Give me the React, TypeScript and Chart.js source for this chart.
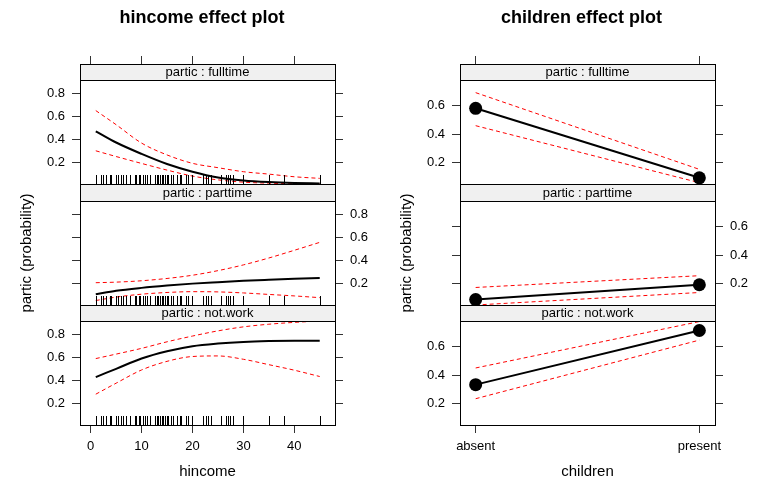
import React, { useEffect, useRef } from "react";
import { Chart, registerables } from "chart.js";

Chart.register(...registerables);
Chart.defaults.font.family = '"Liberation Sans", Arial, Helvetica, sans-serif';
Chart.defaults.color = "#000";

// ---------------- data ----------------
const HINCOME_X = [1, 5, 10, 15, 20, 25, 30, 35, 40, 45];

const FULLTIME_FIT = [0.47, 0.372, 0.273, 0.185, 0.118, 0.068, 0.042, 0.028, 0.02, 0.016];
const FULLTIME_UPPER = [0.65, 0.527, 0.367, 0.264, 0.191, 0.153, 0.118, 0.097, 0.074, 0.06];
const FULLTIME_LOWER = [0.3, 0.25, 0.19, 0.132, 0.08, 0.047, 0.027, 0.018, 0.013, 0.011];

const PARTTIME_FIT = [0.105, 0.135, 0.16, 0.18, 0.197, 0.21, 0.222, 0.231, 0.239, 0.246];
const PARTTIME_UPPER = [0.205, 0.21, 0.222, 0.242, 0.27, 0.31, 0.36, 0.42, 0.487, 0.556];
const PARTTIME_LOWER = [0.05, 0.08, 0.105, 0.12, 0.127, 0.125, 0.116, 0.103, 0.09, 0.075];

const NOTWORK_FIT = [0.428, 0.5, 0.59, 0.653, 0.697, 0.72, 0.734, 0.741, 0.744, 0.745];
const NOTWORK_UPPER = [0.589, 0.628, 0.678, 0.735, 0.785, 0.83, 0.865, 0.888, 0.904, 0.916];
const NOTWORK_LOWER = [0.279, 0.375, 0.49, 0.565, 0.607, 0.612, 0.583, 0.536, 0.488, 0.433];

const HINCOME_RUG = [
  1, 2, 2.4, 3, 3.7, 4, 5, 5.4, 6, 6.4, 7, 7.7, 8.7, 9, 9.4, 9.7, 10.3, 10.7, 11, 11.6,
  12.6, 13, 13.3, 13.6, 14, 14.2, 14.6, 15, 15.2, 15.8, 16.2, 17, 17.5, 17.8, 18.7, 19.2,
  20, 22, 22.6, 23, 23.7, 25.7, 26.5, 27, 27.3, 28, 30, 35, 38, 45,
];

const CHILDREN = ["absent", "present"];
const CH_FULLTIME_FIT = [0.579, 0.095];
const CH_FULLTIME_UPPER = [0.688, 0.154];
const CH_FULLTIME_LOWER = [0.458, 0.061];
const CH_PARTTIME_FIT = [0.09, 0.193];
const CH_PARTTIME_UPPER = [0.174, 0.256];
const CH_PARTTIME_LOWER = [0.052, 0.139];
const CH_NOTWORK_FIT = [0.333, 0.71];
const CH_NOTWORK_UPPER = [0.449, 0.772];
const CH_NOTWORK_LOWER = [0.235, 0.643];

const HINCOME_TICKS = [0, 10, 20, 30, 40];
const LEFT_PROB_TICKS = [0.2, 0.4, 0.6, 0.8];
const RIGHT_PROB_TICKS = [0.2, 0.4, 0.6];

const LEFT_X_LIMITS = [-2.1, 48];
const RIGHT_X_LIMITS = [0.93, 2.07];
const LEFT_Y_LIMITS = [0.011, 0.916];
const RIGHT_Y_LIMITS = [0.052, 0.776];

const STRIP_LABELS = ["partic : fulltime", "partic : parttime", "partic : not.work"];
const TITLES = ["hincome effect plot", "children effect plot"];
const X_TITLES = ["hincome", "children"];
const Y_TITLE = "partic (probability)";

const LEFT_SERIES = [
  [FULLTIME_FIT, FULLTIME_UPPER, FULLTIME_LOWER],
  [PARTTIME_FIT, PARTTIME_UPPER, PARTTIME_LOWER],
  [NOTWORK_FIT, NOTWORK_UPPER, NOTWORK_LOWER],
];
const RIGHT_SERIES = [
  [CH_FULLTIME_FIT, CH_FULLTIME_UPPER, CH_FULLTIME_LOWER],
  [CH_PARTTIME_FIT, CH_PARTTIME_UPPER, CH_PARTTIME_LOWER],
  [CH_NOTWORK_FIT, CH_NOTWORK_UPPER, CH_NOTWORK_LOWER],
];

// ---------------- layout ----------------
const W = 759;
const H = 481;
const COL_LEFT = [0, 380];
const COL_RIGHT = [380, 759];
const PLOT_LEFT = [80, 460];
const PLOT_RIGHT = [335, 715];
const TITLE_INSET = 24;
const ROW_TOP = [0, 184, 305];
const ROW_BOTTOM = [184, 305, 481];
const ROW_OVERHANG = [0, 25, 0];
const STRIP_H = [16, 17, 16];
const BOTTOM_AXIS_H = 56;
const TOP_AXIS_H = 24;
const TICK_LEN = 8;
const TICK_COLOR = "#333";
const STRIP_FILL = "#f0f0f0";
const FONT_FAMILY = '"Liberation Sans", Arial, Helvetica, sans-serif';

function geometry(col: number, row: number) {
  const x = row === 0 ? COL_LEFT[col] + TITLE_INSET : COL_LEFT[col];
  const w = COL_RIGHT[col] - x;
  const oh = ROW_OVERHANG[row];
  return {
    x,
    y: ROW_TOP[row] - oh,
    w,
    h: ROW_BOTTOM[row] - ROW_TOP[row] + 2 * oh,
    leftW: PLOT_LEFT[col] - x,
    rightW: COL_RIGHT[col] - PLOT_RIGHT[col],
    padTop: (row === 0 ? 0 : STRIP_H[row]) + oh,
    padBottom: oh,
  };
}

const pts = (xs: number[], ys: number[]) => xs.map((x, i) => ({ x, y: ys[i] }));

function noPad(s: any) {
  s.paddingTop = 0;
  s.paddingBottom = 0;
  s.paddingLeft = 0;
  s.paddingRight = 0;
}

function buildConfig(col: number, row: number): any {
  const g = geometry(col, row);
  const isLeft = col === 0;
  const xl = isLeft ? LEFT_X_LIMITS : RIGHT_X_LIMITS;
  const yl = isLeft ? LEFT_Y_LIMITS : RIGHT_Y_LIMITS;
  const yt = isLeft ? LEFT_PROB_TICKS : RIGHT_PROB_TICKS;
  const xt = isLeft ? HINCOME_TICKS : CHILDREN.map((_, i) => i + 1);
  const xs = isLeft ? HINCOME_X : CHILDREN.map((_, i) => i + 1);
  const [fit, up, lo] = (isLeft ? LEFT_SERIES : RIGHT_SERIES)[row];
  const xLabel = (v: number) => (isLeft ? String(v) : CHILDREN[Math.round(v) - 1]);
  const tickFont = { size: 13 };
  const gridOpts = (len: number) => ({
    display: true,
    drawOnChartArea: false,
    drawTicks: true,
    tickLength: len,
    color: TICK_COLOR,
    lineWidth: 1,
  });
  const border = { display: true, color: "#000", width: 1 };
  const setTicks = (vals: number[]) => (s: any) => {
    s.ticks = vals.map((v) => ({ value: v }));
  };

  const scales: any = {
    x: {
      type: "linear",
      position: "bottom",
      min: xl[0],
      max: xl[1],
      display: row === 2,
      afterBuildTicks: setTicks(xt),
      afterFit: (s: any) => {
        if (row === 2) s.height = BOTTOM_AXIS_H;
        noPad(s);
      },
      grid: gridOpts(TICK_LEN),
      border,
      ticks: {
        font: tickFont,
        padding: 6,
        autoSkip: false,
        maxRotation: 0,
        callback: (v: any) => xLabel(Number(v)),
      },
      title: {
        display: true,
        text: X_TITLES[col],
        font: { size: 15 },
        padding: { top: 0, bottom: 0 },
      },
    },
    y: {
      type: "linear",
      position: "left",
      min: yl[0],
      max: yl[1],
      afterBuildTicks: setTicks(yt),
      afterFit: (s: any) => {
        s.width = g.leftW;
        noPad(s);
      },
      grid: gridOpts(TICK_LEN),
      border,
      ticks: {
        display: row !== 1,
        font: tickFont,
        padding: 7,
        callback: (v: any) => Number(v).toFixed(1),
      },
      title: {
        display: row === 1,
        text: Y_TITLE,
        font: { size: 15 },
        padding: { top: 18, bottom: 0 },
      },
    },
    y2: {
      type: "linear",
      position: "right",
      min: yl[0],
      max: yl[1],
      afterBuildTicks: setTicks(yt),
      afterFit: (s: any) => {
        s.width = g.rightW;
        noPad(s);
      },
      grid: gridOpts(TICK_LEN),
      border,
      ticks: {
        display: row === 1,
        font: tickFont,
        padding: 7,
        callback: (v: any) => Number(v).toFixed(1),
      },
    },
  };
  if (row === 0) {
    scales.x2 = {
      type: "linear",
      position: "top",
      min: xl[0],
      max: xl[1],
      afterBuildTicks: setTicks(xt),
      afterFit: (s: any) => {
        s.height = TOP_AXIS_H;
        noPad(s);
      },
      grid: gridOpts(TOP_AXIS_H),
      border,
      ticks: { display: false },
    };
  }

  const decor = {
    id: "panelDecor",
    afterDatasetsDraw(chart: any) {
      if (!isLeft) return;
      const ctx = chart.ctx;
      const xScale = chart.scales.x;
      const b = chart.chartArea.bottom;
      ctx.save();
      ctx.strokeStyle = "#000";
      ctx.lineWidth = 1;
      ctx.beginPath();
      for (const v of HINCOME_RUG) {
        const px = Math.round(xScale.getPixelForValue(v)) + 0.5;
        ctx.moveTo(px, b);
        ctx.lineTo(px, b - 9);
      }
      ctx.stroke();
      ctx.restore();
    },
    afterDraw(chart: any) {
      const ctx = chart.ctx;
      const { left, right, top } = chart.chartArea;
      const h = STRIP_H[row];
      const y0 = top - h;
      ctx.save();
      ctx.fillStyle = STRIP_FILL;
      ctx.fillRect(left, y0, right - left, h);
      ctx.strokeStyle = "#000";
      ctx.lineWidth = 1;
      const l = Math.round(left) + 0.5;
      const r = Math.round(right) + 0.5;
      ctx.strokeRect(l, Math.round(y0) + 0.5, r - l, Math.round(h));
      ctx.fillStyle = "#000";
      ctx.font = `13px ${FONT_FAMILY}`;
      ctx.textAlign = "center";
      ctx.textBaseline = "middle";
      ctx.fillText(STRIP_LABELS[row], (left + right) / 2, y0 + h / 2 + 0.5);
      ctx.restore();
    },
  };

  return {
    type: "line",
    data: {
      datasets: [
        {
          data: pts(xs, fit),
          borderColor: "#000",
          borderWidth: 2,
          pointRadius: isLeft ? 0 : 6.5,
          pointHoverRadius: 0,
          pointBackgroundColor: "#000",
          pointBorderColor: "#000",
          pointBorderWidth: 0,
          cubicInterpolationMode: isLeft ? "monotone" : "default",
          tension: 0,
          fill: false,
        },
        {
          data: pts(xs, up),
          borderColor: "#ff0000",
          borderWidth: 1,
          borderDash: [4, 3],
          pointRadius: 0,
          cubicInterpolationMode: isLeft ? "monotone" : "default",
          fill: false,
        },
        {
          data: pts(xs, lo),
          borderColor: "#ff0000",
          borderWidth: 1,
          borderDash: [4, 3],
          pointRadius: 0,
          cubicInterpolationMode: isLeft ? "monotone" : "default",
          fill: false,
        },
      ],
    },
    options: {
      responsive: false,
      animation: false,
      devicePixelRatio: 1,
      events: [],
      layout: {
        autoPadding: false,
        padding: { top: g.padTop, left: 0, right: 0, bottom: g.padBottom },
      },
      scales,
      plugins: {
        legend: { display: false },
        tooltip: { enabled: false },
        title: {
          display: row === 0,
          text: TITLES[col],
          color: "#000",
          font: { size: 18, weight: "bold" },
          padding: { top: 7, bottom: 27.4 },
        },
      },
    },
    plugins: [decor],
  };
}

function Panel({ col, row }: { col: number; row: number }) {
  const ref = useRef<HTMLCanvasElement>(null);
  const g = geometry(col, row);
  useEffect(() => {
    const chart = new Chart(ref.current as HTMLCanvasElement, buildConfig(col, row));
    return () => chart.destroy();
  }, [col, row]);
  return (
    <canvas
      ref={ref}
      width={g.w}
      height={g.h}
      style={{ position: "absolute", left: g.x, top: g.y, width: g.w, height: g.h, display: "block" }}
    />
  );
}

export default function App() {
  const panels: { col: number; row: number }[] = [];
  for (let col = 0; col < 2; col++) for (let row = 0; row < 3; row++) panels.push({ col, row });
  return (
    <div
      style={{
        position: "absolute",
        left: 0,
        top: 0,
        width: W,
        height: H,
        background: "#fff",
        overflow: "hidden",
      }}
    >
      {panels.map((p) => (
        <Panel key={`${p.col}-${p.row}`} col={p.col} row={p.row} />
      ))}
    </div>
  );
}
